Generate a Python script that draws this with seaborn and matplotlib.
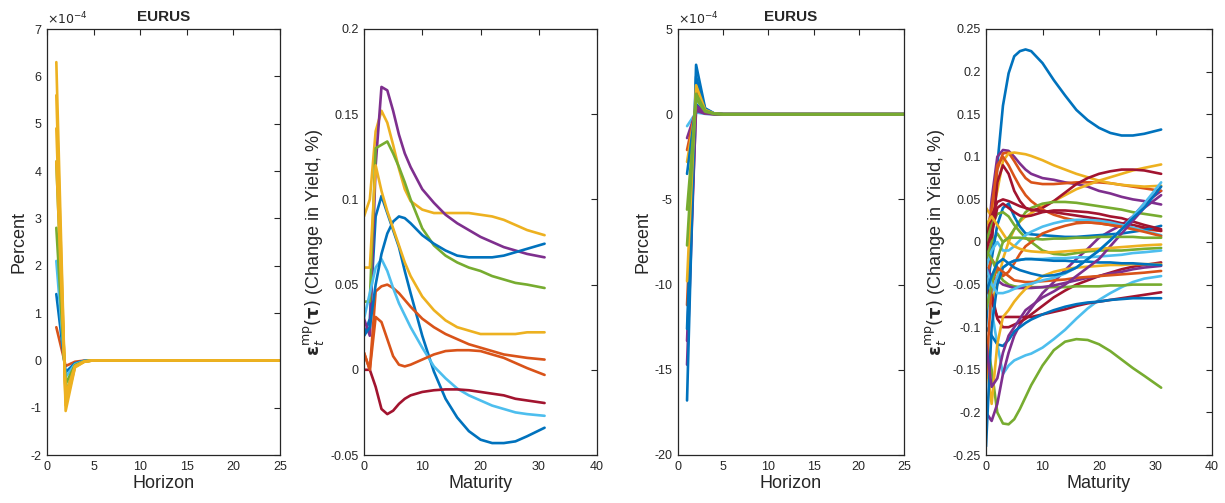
import matplotlib
matplotlib.use('Agg')
import matplotlib.pyplot as plt
import numpy as np
import pandas as pd
import seaborn as sns
from matplotlib.ticker import FuncFormatter, MultipleLocator

# matlab default colour order
C = {'b': '#0072BD', 'o': '#D95319', 'y': '#EDB120', 'p': '#7E2F8E',
     'g': '#77AC30', 'c': '#4DBEEE', 'r': '#A2142F'}

horizon = list(range(1, 26))
pad = [0.0] * 20

# impulse responses, units of 1e-4 (horizons 1..5, then zero)
irf1 = {
    'r1': [0.7, -0.12, -0.03, -0.005, 0.0] + pad,
    'b1': [1.4, -0.25, -0.06, -0.01, 0.0] + pad,
    'c1': [2.1, -0.35, -0.08, -0.015, 0.0] + pad,
    'g1': [2.8, -0.5, -0.1, -0.02, 0.0] + pad,
    'g2': [4.2, -0.7, -0.12, -0.025, 0.0] + pad,
    'y1': [4.2, -0.72, -0.12, -0.025, 0.0] + pad,
    'y2': [4.9, -0.85, -0.13, -0.027, 0.0] + pad,
    'y3': [5.6, -0.95, -0.14, -0.028, 0.0] + pad,
    'y4': [6.3, -1.07, -0.15, -0.03, 0.0] + pad,
}
irf1_colors = ['o', 'b', 'c', 'g', 'g', 'y', 'y', 'y', 'y']

irf3 = {
    'c1': [-0.7, 0.1, 0.02, 0.0, 0.0] + pad,
    'p1': [-1.4, 0.2, 0.03, 0.0, 0.0] + pad,
    'o1': [-2.1, 0.4, 0.05, 0.01, 0.0] + pad,
    'y1': [-2.8, 0.5, 0.07, 0.01, 0.0] + pad,
    'b1': [-3.5, 0.6, 0.08, 0.01, 0.0] + pad,
    'p2': [-13.3, 0.3, 0.05, 0.01, 0.0] + pad,
    'p3': [-14.7, 0.5, 0.1, 0.02, 0.0] + pad,
    'o2': [-11.2, 1.4, 0.22, 0.03, 0.0] + pad,
    'b2': [-12.6, 2.2, 0.3, 0.04, 0.0] + pad,
    'b3': [-16.8, 2.9, 0.35, 0.05, 0.0] + pad,
    'y2': [-9.8, 1.7, 0.25, 0.04, 0.0] + pad,
    'g1': [-7.7, 1.2, 0.2, 0.03, 0.0] + pad,
    'g2': [-5.6, 0.9, 0.15, 0.02, 0.0] + pad,
}
irf3_colors = ['c', 'p', 'o', 'y', 'b', 'p', 'p', 'o', 'b', 'b', 'y', 'g', 'g']

maturity = [0, 1, 2, 3, 4, 5, 6, 7, 8, 10, 12, 14, 16, 18, 20, 22, 24, 26, 28, 31]

# yield curve shocks, panel 2
curves2 = {
    'b1': [0.02, 0.03, 0.09, 0.102, 0.092, 0.082, 0.072, 0.058, 0.045, 0.02, -0.001, -0.017, -0.028, -0.036, -0.041, -0.043, -0.043, -0.042, -0.039, -0.034],
    'o1': [0.01, 0.0, 0.046, 0.049, 0.05, 0.048, 0.045, 0.041, 0.037, 0.03, 0.025, 0.021, 0.018, 0.015, 0.013, 0.011, 0.009, 0.008, 0.007, 0.006],
    'y1': [0.09, 0.1, 0.14, 0.152, 0.145, 0.132, 0.118, 0.106, 0.099, 0.094, 0.092, 0.092, 0.092, 0.092, 0.091, 0.09, 0.088, 0.085, 0.082, 0.079],
    'p1': [0.03, 0.02, 0.12, 0.166, 0.164, 0.152, 0.138, 0.127, 0.119, 0.106, 0.098, 0.091, 0.086, 0.082, 0.078, 0.075, 0.072, 0.07, 0.068, 0.066],
    'g1': [0.04, 0.04, 0.13, 0.132, 0.134, 0.127, 0.119, 0.11, 0.1, 0.083, 0.073, 0.067, 0.063, 0.06, 0.058, 0.055, 0.053, 0.051, 0.05, 0.048],
    'c1': [0.03, 0.045, 0.06, 0.065, 0.058, 0.048, 0.039, 0.032, 0.025, 0.013, 0.002, -0.005, -0.011, -0.015, -0.018, -0.021, -0.023, -0.025, -0.026, -0.027],
    'r1': [0.0, 0.0, -0.01, -0.023, -0.026, -0.024, -0.02, -0.017, -0.015, -0.013, -0.012, -0.0115, -0.0115, -0.012, -0.013, -0.014, -0.015, -0.017, -0.018, -0.0195],
    'b2': [0.02, 0.025, 0.05, 0.068, 0.08, 0.087, 0.09, 0.089, 0.086, 0.079, 0.074, 0.07, 0.067, 0.066, 0.066, 0.066, 0.067, 0.069, 0.071, 0.074],
    'o2': [0.01, 0.0, 0.031, 0.028, 0.018, 0.008, 0.003, 0.002, 0.003, 0.006, 0.009, 0.011, 0.0115, 0.0115, 0.011, 0.009, 0.007, 0.004, 0.001, -0.003],
    'y2': [0.06, 0.06, 0.12, 0.105, 0.093, 0.083, 0.073, 0.063, 0.055, 0.043, 0.035, 0.029, 0.025, 0.023, 0.021, 0.021, 0.021, 0.021, 0.022, 0.022],
}
curves2_colors = ['b', 'o', 'y', 'p', 'g', 'c', 'r', 'b', 'o', 'y']

# yield curve shocks, panel 4
curves4 = {
    'A': [-0.1, 0.0, 0.09, 0.16, 0.198, 0.218, 0.224, 0.226, 0.224, 0.21, 0.19, 0.172, 0.155, 0.143, 0.134, 0.128, 0.125, 0.125, 0.127, 0.132],
    'B': [-0.11, -0.15, -0.2, -0.213, -0.214, -0.208, -0.196, -0.182, -0.168, -0.145, -0.127, -0.117, -0.114, -0.115, -0.12, -0.128, -0.138, -0.148, -0.157, -0.171],
    'C': [-0.06, -0.08, -0.12, -0.155, -0.145, -0.139, -0.136, -0.133, -0.131, -0.124, -0.114, -0.103, -0.09, -0.078, -0.068, -0.06, -0.053, -0.047, -0.043, -0.04],
    'D': [-0.2, -0.21, -0.19, -0.155, -0.13, -0.11, -0.097, -0.087, -0.078, -0.06, -0.047, -0.033, -0.02, -0.008, 0.005, 0.013, 0.02, 0.03, 0.045, 0.06],
    'E': [-0.02, 0.05, 0.1, 0.108, 0.107, 0.1, 0.092, 0.085, 0.08, 0.075, 0.073, 0.07, 0.068, 0.065, 0.06, 0.057, 0.053, 0.05, 0.048, 0.044],
    'F': [0.0, 0.02, 0.085, 0.104, 0.105, 0.095, 0.084, 0.075, 0.07, 0.068, 0.068, 0.069, 0.07, 0.07, 0.07, 0.069, 0.067, 0.065, 0.063, 0.06],
    'G': [0.04, 0.03, 0.06, 0.095, 0.104, 0.105, 0.104, 0.103, 0.101, 0.096, 0.09, 0.085, 0.08, 0.076, 0.072, 0.069, 0.067, 0.066, 0.065, 0.066],
    'H': [-0.03, -0.07, -0.05, -0.02, 0.0, 0.015, 0.024, 0.03, 0.034, 0.042, 0.048, 0.055, 0.062, 0.067, 0.072, 0.076, 0.08, 0.084, 0.087, 0.091],
    'I': [-0.02, 0.0, 0.07, 0.09, 0.08, 0.06, 0.048, 0.04, 0.037, 0.04, 0.048, 0.058, 0.068, 0.075, 0.08, 0.083, 0.085, 0.085, 0.084, 0.08],
    'J': [0.0, 0.04, 0.09, 0.1, 0.09, 0.077, 0.065, 0.055, 0.048, 0.038, 0.032, 0.028, 0.025, 0.023, 0.022, 0.02, 0.018, 0.016, 0.015, 0.013],
    'K': [-0.02, 0.0, 0.01, 0.0, 0.005, 0.015, 0.025, 0.035, 0.04, 0.045, 0.047, 0.047, 0.046, 0.044, 0.042, 0.04, 0.038, 0.035, 0.033, 0.03],
    'L': [0.0, 0.03, 0.047, 0.05, 0.048, 0.045, 0.042, 0.04, 0.038, 0.036, 0.035, 0.033, 0.031, 0.029, 0.027, 0.025, 0.022, 0.02, 0.017, 0.013],
    'M': [-0.05, -0.02, 0.02, 0.04, 0.045, 0.03, 0.018, 0.01, 0.009, 0.008, 0.007, 0.006, 0.006, 0.007, 0.008, 0.009, 0.01, 0.012, 0.014, 0.019],
    'N': [0.0, 0.02, 0.033, 0.035, 0.03, 0.02, 0.012, 0.005, 0.0, -0.01, -0.014, -0.015, -0.013, -0.011, -0.01, -0.01, -0.01, -0.009, -0.008, -0.007],
    'O': [-0.03, -0.01, 0.0, -0.01, -0.01, -0.005, 0.002, 0.008, 0.012, 0.018, 0.022, 0.025, 0.026, 0.026, 0.025, 0.023, 0.02, 0.017, 0.013, 0.008],
    'P': [-0.04, -0.02, -0.03, -0.04, -0.035, -0.025, -0.014, -0.005, 0.0, 0.01, 0.015, 0.019, 0.022, 0.023, 0.022, 0.02, 0.018, 0.015, 0.012, 0.007],
    'Q': [-0.01, 0.01, 0.04, 0.045, 0.04, 0.035, 0.031, 0.03, 0.031, 0.035, 0.037, 0.037, 0.036, 0.035, 0.033, 0.03, 0.028, 0.024, 0.02, 0.015],
    'R': [-0.05, -0.07, -0.088, -0.088, -0.088, -0.088, -0.088, -0.088, -0.088, -0.085, -0.082, -0.079, -0.075, -0.072, -0.07, -0.068, -0.066, -0.064, -0.062, -0.059],
    'S': [-0.1, -0.11, -0.12, -0.122, -0.115, -0.105, -0.1, -0.095, -0.091, -0.085, -0.08, -0.076, -0.073, -0.071, -0.07, -0.068, -0.067, -0.066, -0.066, -0.066],
    'T': [-0.03, -0.06, -0.09, -0.1, -0.1, -0.097, -0.094, -0.09, -0.085, -0.075, -0.065, -0.057, -0.05, -0.045, -0.04, -0.036, -0.032, -0.029, -0.027, -0.024],
    'U': [-0.01, -0.02, -0.035, -0.045, -0.05, -0.052, -0.053, -0.053, -0.053, -0.053, -0.053, -0.053, -0.052, -0.052, -0.052, -0.051, -0.051, -0.05, -0.05, -0.05],
    'V': [-0.03, -0.04, -0.045, -0.05, -0.052, -0.054, -0.054, -0.054, -0.054, -0.053, -0.051, -0.048, -0.045, -0.042, -0.04, -0.037, -0.035, -0.032, -0.03, -0.028],
    'W': [-0.14, -0.19, -0.12, -0.088, -0.08, -0.07, -0.062, -0.055, -0.05, -0.04, -0.035, -0.032, -0.03, -0.029, -0.028, -0.027, -0.027, -0.026, -0.026, -0.026],
    'X': [-0.04, -0.06, -0.04, -0.03, -0.025, -0.022, -0.021, -0.02, -0.02, -0.02, -0.019, -0.019, -0.018, -0.018, -0.017, -0.016, -0.015, -0.013, -0.012, -0.01],
    'Y': [-0.24, -0.1, -0.05, -0.03, -0.025, -0.022, -0.021, -0.02, -0.02, -0.021, -0.022, -0.022, -0.023, -0.023, -0.024, -0.024, -0.025, -0.025, -0.026, -0.027],
    'Z': [-0.16, -0.05, -0.03, -0.035, -0.04, -0.045, -0.046, -0.047, -0.047, -0.046, -0.045, -0.044, -0.042, -0.041, -0.04, -0.039, -0.038, -0.037, -0.036, -0.034],
    'AA': [-0.12, -0.17, -0.16, -0.13, -0.11, -0.1, -0.09, -0.08, -0.075, -0.065, -0.058, -0.05, -0.04, -0.03, -0.02, -0.005, 0.01, 0.025, 0.04, 0.055],
    'AB': [0.02, 0.03, 0.02, 0.01, 0.0, -0.005, -0.008, -0.01, -0.011, -0.012, -0.012, -0.011, -0.01, -0.009, -0.008, -0.007, -0.006, -0.005, -0.004, -0.003],
    'AC': [-0.08, -0.05, -0.02, 0.0, 0.005, 0.005, 0.005, 0.004, 0.004, 0.003, 0.004, 0.004, 0.005, 0.005, 0.006, 0.006, 0.006, 0.006, 0.005, 0.005],
    'AD': [-0.03, -0.05, -0.06, -0.06, -0.058, -0.055, -0.052, -0.05, -0.049, -0.045, -0.042, -0.037, -0.03, -0.02, -0.01, 0.002, 0.015, 0.03, 0.045, 0.07],
    'AE': [-0.06, -0.04, -0.025, -0.02, -0.025, -0.03, -0.033, -0.035, -0.037, -0.04, -0.039, -0.036, -0.03, -0.02, -0.01, 0.002, 0.015, 0.028, 0.04, 0.065],
}
curves4_colors = ['b', 'g', 'c', 'p', 'p', 'o', 'y', 'y', 'r', 'o', 'g', 'r', 'b', 'g', 'c',
                  'o', 'r', 'r', 'b', 'r', 'g', 'p', 'y', 'c', 'b', 'o', 'p', 'y', 'g', 'c', 'b']


def to_long(x, curves):
    rows = []
    for name, vals in curves.items():
        for xi, vi in zip(x, vals):
            rows.append((name, xi, vi))
    return pd.DataFrame(rows, columns=['line', 'x', 'y'])


sns.set_theme(style='white')
plt.rcParams['font.family'] = ['Liberation Sans', 'DejaVu Sans']
plt.rcParams['mathtext.fontset'] = 'dejavusans'

fig = plt.figure(figsize=(12.25, 5.03), dpi=100)
W, H = 1225, 503
edge = '#262626'


def make_ax(left, right):
    return fig.add_axes([left / W, (H - 455) / H, (right - left) / W, 426 / H])


def style(ax, xlim, xstep, ylim, ystep, xlabel, ylabel):
    ax.set_xlim(*xlim)
    ax.set_ylim(*ylim)
    ax.xaxis.set_major_locator(MultipleLocator(xstep))
    ax.yaxis.set_major_locator(MultipleLocator(ystep))
    fmt = FuncFormatter(lambda v, p: '%g' % round(v, 6))
    ax.xaxis.set_major_formatter(fmt)
    ax.yaxis.set_major_formatter(fmt)
    ax.tick_params(direction='in', top=True, right=True, length=4, width=0.8,
                   labelsize=9, colors=edge, pad=4)
    for s in ax.spines.values():
        s.set_color(edge)
        s.set_linewidth(0.9)
        s.set_visible(True)
    ax.set_xlabel(xlabel, fontsize=13, color=edge, labelpad=2)
    ax.set_ylabel(ylabel, fontsize=13, color=edge, labelpad=2)


def draw(ax, x, curves, colors):
    df = to_long(x, curves)
    pal = {n: C[c] for n, c in zip(curves.keys(), colors)}
    sns.lineplot(data=df, x='x', y='y', hue='line', palette=pal, linewidth=1.9,
                 legend=False, ax=ax, estimator=None, sort=False)


eps_label = r'$\mathbf{\epsilon}_t^{\mathrm{mp}}(\mathbf{\tau})$ (Change in Yield, %)'

ax1 = make_ax(47, 280)
draw(ax1, horizon, irf1, irf1_colors)
style(ax1, (0, 25), 5, (-2, 7), 1, 'Horizon', 'Percent')
ax1.set_title('EURUS', fontsize=11, fontweight='bold', pad=6)
ax1.text(0, 1.004, r'$\times10^{-4}$', transform=ax1.transAxes, fontsize=9,
         color=edge, va='bottom', ha='left')

ax2 = make_ax(364, 597)
draw(ax2, maturity, curves2, curves2_colors)
style(ax2, (0, 40), 10, (-0.05, 0.2), 0.05, 'Maturity', eps_label)

ax3 = make_ax(678, 904)
draw(ax3, horizon, irf3, irf3_colors)
style(ax3, (0, 25), 5, (-20, 5), 5, 'Horizon', 'Percent')
ax3.set_title('EURUS', fontsize=11, fontweight='bold', pad=6)
ax3.text(0, 1.004, r'$\times10^{-4}$', transform=ax3.transAxes, fontsize=9,
         color=edge, va='bottom', ha='left')

ax4 = make_ax(986, 1212)
draw(ax4, maturity, curves4, curves4_colors)
style(ax4, (0, 40), 10, (-0.25, 0.25), 0.05, 'Maturity', eps_label)

fig.savefig('out.png', dpi=100)
